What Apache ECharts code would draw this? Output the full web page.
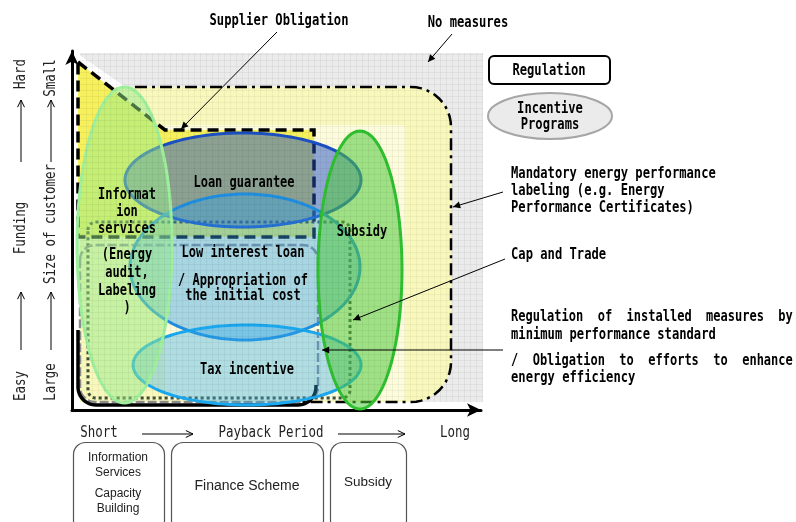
<!DOCTYPE html>
<html><head><meta charset="utf-8">
<script src="https://cdn.jsdelivr.net/npm/echarts@6/dist/echarts.min.js"></script>
<style>html,body{margin:0;padding:0;background:#fff}#c{width:796px;height:522px}</style>
</head><body><div id="c"></div>
<script>
// Axis extents: payback period (short -> long) and funding difficulty / size of customer (easy,large -> hard,small)
const xMax = 409, yMax = 359;

// Incentive programs (ellipses): payback range and difficulty range
const programNames = ['Loan guarantee', 'Low interest loan', 'Tax incentive', 'Information services', 'Subsidy'];
const programXMin = [53, 58, 61, 5, 246];
const programXMax = [289, 288, 289, 100, 330];
const programYMin = [183, 70, 5, 7, 1];
const programYMax = [277, 216, 85, 323, 279];

// Regulation regions (rectangles): payback range and difficulty range
const regionNames = ['No measures', 'Mandatory energy performance labeling', 'Inner band', 'Cap and Trade', 'Minimum performance standard', 'Obligation to efforts'];
const regionXMin = [8, 8, 93, 16, 8, 6];
const regionXMax = [411, 379, 333, 278, 246, 244];
const regionYMin = [8, 8, 10, 12, 8, 5];
const regionYMax = [357, 323, 285, 188, 165, 80];

// Supplier Obligation outline
const supplierX = [6, 93, 242, 242, 6];
const supplierY = [348, 280, 280, 173, 173];

// Labels inside the diagram
const labelTexts = ['Loan guarantee', 'Low interest loan', '/ Appropriation of', 'the initial cost', 'Tax incentive', 'Subsidy',
  'Informat', 'ion', 'services', '(Energy', 'audit,', 'Labeling', ')'];
const labelX = [172, 171, 171, 171, 175, 290, 55, 55, 55, 55, 55, 55, 55];
const labelY = [227, 157, 129, 114, 40, 178, 215, 198, 181, 155, 137, 119, 102];

// ---------- styles ----------
const mono = '"DejaVu Sans Mono", monospace';
const sans = '"Liberation Sans", Arial, sans-serif';
const programStroke = ['#1b4fc4', '#1f8ee0', '#1aa8f0', '#9ef09c', '#2ec02e'];
const programFill = ['rgba(35,80,200,0.50)', 'rgba(50,160,232,0.42)', 'rgba(50,172,236,0.38)', 'rgba(150,235,140,0.50)', 'rgba(80,200,60,0.55)'];

function arc(cx, cy, r, a0, a1, n) {
  n = n || 12; const p = [];
  for (let i = 0; i <= n; i++) { const a = (a0 + (a1 - a0) * i / n) * Math.PI / 180; p.push([cx + r * Math.cos(a), cy + r * Math.sin(a)]); }
  return p;
}
function roundRect(x0, x1, y0, y1, r) {
  return [].concat(arc(x0 + r[0], y1 - r[0], r[0], 180, 90), arc(x1 - r[1], y1 - r[1], r[1], 90, 0),
    arc(x1 - r[2], y0 + r[2], r[2], 0, -90), arc(x0 + r[3], y0 + r[3], r[3], -90, -180));
}
function ellipse(i) {
  const cx = (programXMin[i] + programXMax[i]) / 2, cy = (programYMin[i] + programYMax[i]) / 2;
  const rx = (programXMax[i] - programXMin[i]) / 2, ry = (programYMax[i] - programYMin[i]) / 2;
  const p = []; for (let k = 0; k < 120; k++) { const t = 2 * Math.PI * k / 120; p.push([cx + rx * Math.cos(t), cy + ry * Math.sin(t)]); }
  return p;
}
function reg(i) { return [regionXMin[i], regionXMax[i], regionYMin[i], regionYMax[i]]; }

const layers = [];
// fills
layers.push(() => ({ kind: 'polygon', pts: roundRect(...reg(0), [0, 0, 0, 0]), style: { fill: '#ebebeb' } }));
layers.push(() => ({ kind: 'polygon', pts: [[6, 356], [55, 322], [6, 322]], style: { fill: '#ffffff' } }));
layers.push(() => ({ kind: 'polygon', pts: roundRect(...reg(1), [0, 40, 40, 0]), style: { fill: '#f8f8bd' } }));
layers.push(() => ({ kind: 'polygon', pts: roundRect(...reg(2), [0, 0, 0, 0]), style: { fill: '#fcfcdc' } }));
layers.push(() => ({ kind: 'polygon', pts: supplierX.map((x, k) => [x, supplierY[k]]), style: { fill: '#f5f05c' } }));
// outlines
layers.push(() => ({ kind: 'polygon', pts: roundRect(...reg(3), [8, 8, 8, 8]), style: { fill: 'none', stroke: '#3d4d36', lineWidth: 3, lineDash: [3, 3] } }));
layers.push(() => ({ kind: 'polygon', pts: roundRect(...reg(4), [15, 15, 15, 15]), style: { fill: 'none', stroke: '#8c8c8c', lineWidth: 2.5, lineDash: [9, 3] } }));
layers.push(() => {
  const [x0, x1, y0, y1] = reg(5);
  return { kind: 'polyline', pts: [[x0, y1]].concat(arc(x0 + 18, y0 + 18, 18, 180, 270), arc(x1 - 18, y0 + 18, 18, 270, 360), [[x1, y0 + 20]]), style: { fill: 'none', stroke: '#000', lineWidth: 3.5 } };
});
layers.push(() => ({ kind: 'polygon', pts: supplierX.map((x, k) => [x, supplierY[k]]), style: { fill: 'none', stroke: '#000', lineWidth: 3.5, lineDash: [11, 6] } }));
layers.push(() => {
  const [x0, x1, y0, y1] = reg(1);
  return { kind: 'polyline', pts: [[63, y1]].concat(arc(x1 - 40, y1 - 40, 40, 90, 0), arc(x1 - 40, y0 + 40, 40, 0, -90), [[228, y0]]), style: { fill: 'none', stroke: '#000', lineWidth: 2.5, lineDash: [12, 5, 3, 5] } };
});
// ellipses
programNames.forEach((n, i) => layers.push(() => ({ kind: 'polygon', pts: ellipse(i), style: { fill: programFill[i], stroke: programStroke[i], lineWidth: 3 } })));
// fine hatch texture over the diagram area
layers.push(() => ({ kind: 'grid', box: reg(0), step: 6 }));
// labels
labelTexts.forEach((t, i) => layers.push(() => ({ kind: 'text', pt: [labelX[i], labelY[i]], text: t })));

function renderItem(params, api) {
  const L = layers[params.dataIndex]();
  if (L.kind === 'text') {
    const p = api.coord(L.pt);
    return { type: 'text', x: p[0], y: p[1], scaleX: 0.8, style: { text: L.text, font: 'bold 15px ' + mono, fill: '#000', align: 'center', verticalAlign: 'middle', textAlign: 'center', textVerticalAlign: 'middle' } };
  }
  if (L.kind === 'grid') {
    const [x0, x1, y0, y1] = L.box, kids = [];
    const a = api.coord([x0, y1]), b = api.coord([x1, y0]);
    for (let x = x0 + L.step; x < x1; x += L.step) { const p = api.coord([x, 0])[0]; const px = Math.round(p) + 0.5;
      kids.push({ type: 'line', shape: { x1: px, y1: a[1], x2: px, y2: b[1] }, style: { stroke: 'rgba(0,0,0,0.045)', lineWidth: 1 } }); }
    for (let y = y0 + L.step; y < y1; y += L.step) { const p = api.coord([0, y])[1]; const py = Math.round(p) + 0.5;
      kids.push({ type: 'line', shape: { x1: a[0], y1: py, x2: b[0], y2: py }, style: { stroke: 'rgba(0,0,0,0.045)', lineWidth: 1 } }); }
    return { type: 'group', children: kids };
  }
  return { type: L.kind, shape: { points: L.pts.map(q => api.coord(q)) }, style: L.style };
}

// ---------- annotation graphics (layout) ----------
function T(text, x, y, o) {
  o = o || {};
  return { type: 'text', x: x, y: y, z: 100, rotation: o.rot || 0, scaleX: o.sx || 1,
    style: { text: text, font: o.font || ('bold 15px ' + mono), fill: o.fill || '#000', align: o.align || 'center', textAlign: o.align || 'center', verticalAlign: 'middle', textVerticalAlign: 'middle' } };
}
function arrow(x1, y1, x2, y2, o) {
  o = o || {}; const len = o.len || 8, w = o.lw || 1, ang = Math.atan2(y2 - y1, x2 - x1), h = 0.45;
  const a = [x2 - len * Math.cos(ang - h), y2 - len * Math.sin(ang - h)], b = [x2 - len * Math.cos(ang + h), y2 - len * Math.sin(ang + h)];
  return [
    { type: 'line', z: 100, shape: { x1: x1, y1: y1, x2: x2, y2: y2 }, style: { stroke: '#000', lineWidth: w } },
    o.open ? { type: 'polyline', z: 100, shape: { points: [a, [x2, y2], b] }, style: { stroke: '#000', lineWidth: w, fill: 'none' } }
           : { type: 'polygon', z: 100, shape: { points: [a, [x2, y2], b] }, style: { fill: '#000' } }
  ];
}
const B = { sx: 0.81 };
const R = { font: '15px ' + mono, sx: 0.83, fill: '#222' };
const graphics = [].concat(
  T('Supplier Obligation', 279, 21, B), arrow(277, 32, 181, 129),
  T('No measures', 468, 23, B), arrow(452, 34, 428, 62),
  { type: 'rect', z: 100, shape: { x: 489, y: 56, width: 121, height: 28, r: 5 }, style: { fill: '#fff', stroke: '#000', lineWidth: 2 } },
  T('Regulation', 549, 71, B),
  { type: 'ellipse', z: 100, shape: { cx: 550, cy: 116, rx: 62, ry: 23 }, style: { fill: '#ebebeb', stroke: '#a6a6a6', lineWidth: 2 } },
  T('Incentive', 550, 109, B), T('Programs', 550, 125, B),
  T('Mandatory energy performance', 511, 174, Object.assign({ align: 'left' }, B)),
  T('labeling (e.g. Energy', 511, 191, Object.assign({ align: 'left' }, B)),
  T('Performance Certificates)', 511, 208, Object.assign({ align: 'left' }, B)),
  arrow(503, 192, 453, 207),
  T('Cap and Trade', 511, 255, Object.assign({ align: 'left' }, B)), arrow(505, 259, 353, 320),
  T('Regulation  of  installed  measures  by', 511, 317, Object.assign({ align: 'left' }, B, { sx: 0.8 })),
  T('minimum performance standard', 511, 335, Object.assign({ align: 'left' }, B)),
  T('/  Obligation  to  efforts  to  enhance', 511, 361, Object.assign({ align: 'left' }, B, { sx: 0.8 })),
  T('energy efficiency', 511, 378, Object.assign({ align: 'left' }, B)),
  arrow(503, 350, 322, 350),
  // payback axis
  T('Short', 99, 433, R), T('Payback Period', 271, 433, R), T('Long', 455, 433, R),
  arrow(142, 434, 193, 434, { open: true }), arrow(338, 434, 405, 434, { open: true }),
  // vertical titles
  T('Hard', 21, 74, Object.assign({ rot: Math.PI / 2 }, R)), T('Funding', 21, 228, Object.assign({ rot: Math.PI / 2 }, R)), T('Easy', 21, 386, Object.assign({ rot: Math.PI / 2 }, R)),
  arrow(21, 162, 21, 100, { open: true }), arrow(21, 350, 21, 292, { open: true }),
  T('Small', 51, 78, Object.assign({ rot: Math.PI / 2 }, R)), T('Size of customer', 51, 224, Object.assign({ rot: Math.PI / 2 }, R)), T('Large', 51, 382, Object.assign({ rot: Math.PI / 2 }, R)),
  arrow(51, 162, 51, 100, { open: true }), arrow(51, 350, 51, 292, { open: true }),
  // boxes
  { type: 'rect', z: 100, shape: { x: 73.5, y: 442.5, width: 91, height: 90, r: 12 }, style: { fill: '#fff', stroke: '#555', lineWidth: 1.2 } },
  { type: 'rect', z: 100, shape: { x: 171.5, y: 442.5, width: 152, height: 90, r: 12 }, style: { fill: '#fff', stroke: '#555', lineWidth: 1.2 } },
  { type: 'rect', z: 100, shape: { x: 330.5, y: 442.5, width: 76, height: 90, r: 12 }, style: { fill: '#fff', stroke: '#555', lineWidth: 1.2 } },
  T('Information', 118, 458, { font: '12px ' + sans, fill: '#222' }), T('Services', 118, 473, { font: '12px ' + sans, fill: '#222' }),
  T('Capacity', 118, 494, { font: '12px ' + sans, fill: '#222' }), T('Building', 118, 509, { font: '12px ' + sans, fill: '#222' }),
  T('Finance Scheme', 247, 486, { font: '14px ' + sans, fill: '#222' }),
  T('Subsidy', 368, 482, { font: '13.5px ' + sans, fill: '#222' })
);

const chart = echarts.init(document.getElementById('c'), null, { renderer: 'canvas' });
const axisCommon = {
  type: 'value', min: 0,
  axisLine: { show: true, symbol: ['none', 'arrow'], symbolSize: [10, 14], lineStyle: { color: '#000', width: 3 } },
  axisTick: { show: false }, axisLabel: { show: false }, splitLine: { show: false }
};
chart.setOption({
  animation: false,
  backgroundColor: '#fff',
  grid: { left: 72, right: 315, top: 51, bottom: 112 },
  xAxis: Object.assign({}, axisCommon, { max: xMax }),
  yAxis: Object.assign({}, axisCommon, { max: yMax }),
  graphic: { elements: graphics },
  series: [{ type: 'custom', renderItem: renderItem, clip: false, silent: true, data: layers.map((_, i) => [i, 0]) }]
});
</script></body></html>
